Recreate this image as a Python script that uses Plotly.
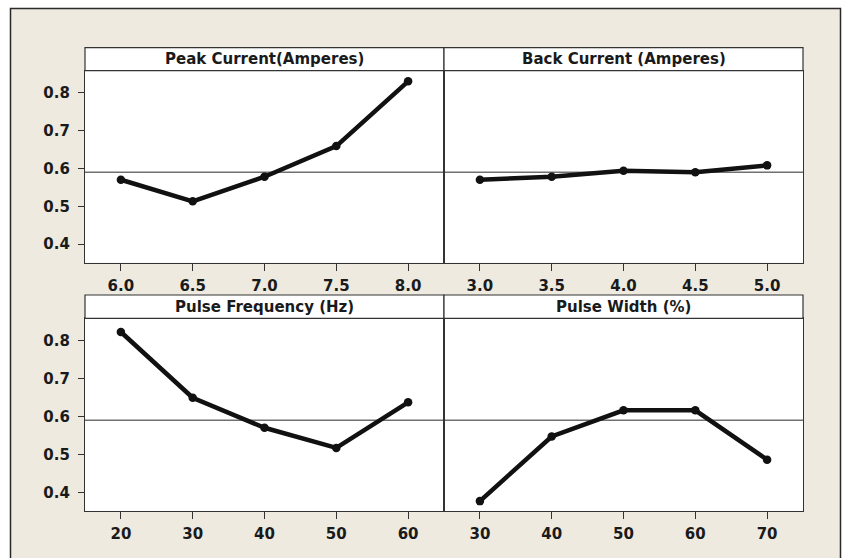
import plotly.graph_objects as go

W, H = 842, 558

# ---- data ----
panel_titles = ["Peak Current(Amperes)", "Back Current (Amperes)",
                "Pulse Frequency (Hz)", "Pulse Width (%)"]
peak_x = [6.0, 6.5, 7.0, 7.5, 8.0]
peak_y = [0.570, 0.513, 0.578, 0.659, 0.830]
back_x = [3.0, 3.5, 4.0, 4.5, 5.0]
back_y = [0.570, 0.578, 0.594, 0.590, 0.608]
freq_x = [20, 30, 40, 50, 60]
freq_y = [0.822, 0.649, 0.570, 0.517, 0.637]
width_x = [30, 40, 50, 60, 70]
width_y = [0.377, 0.547, 0.616, 0.616, 0.486]
grand_mean = 0.590
y_ticks = [0.4, 0.5, 0.6, 0.7, 0.8]

series = [(peak_x, peak_y), (back_x, back_y), (freq_x, freq_y), (width_x, width_y)]
x_ranges = [[5.75, 8.25], [2.75, 5.25], [15, 65], [25, 75]]
x_formats = [".1f", ".1f", "d", "d"]
y_range = [0.351, 0.858]

# ---- geometry (pixels) ----
px_cols = [(85, 444), (444, 803)]
px_rows = [(47.7, 70.7, 262.7), (295, 318.3, 511)]  # strip top, strip bottom, plot bottom

def fx(p):
    return p / W

def fy(p):
    return 1 - p / H

BEIGE = "#EEEAE0"
FONT = dict(family="DejaVu Sans", size=15, color="#1a1a1a", weight="bold")

fig = go.Figure()
shapes = []
annotations = []

# white outside area + frame
shapes.append(dict(type="rect", xref="paper", yref="paper", x0=0, x1=1, y0=fy(8), y1=1,
                   fillcolor="white", line_width=0, layer="below"))
shapes.append(dict(type="rect", xref="paper", yref="paper", x0=0, x1=fx(10), y0=0, y1=1,
                   fillcolor="white", line_width=0, layer="below"))
shapes.append(dict(type="rect", xref="paper", yref="paper", x0=fx(841), x1=1, y0=0, y1=1,
                   fillcolor="white", line_width=0, layer="below"))
shapes.append(dict(type="path", xref="paper", yref="paper",
                   path=f"M {fx(10.5)},{fy(560)} L {fx(10.5)},{fy(8.5)} L {fx(840.5)},{fy(8.5)} L {fx(840.5)},{fy(560)}",
                   line=dict(color="#2a2a2a", width=1.5)))

for i, (xs, ys) in enumerate(series):
    r, c = divmod(i, 2)
    n = i + 1
    xa = "xaxis" if n == 1 else f"xaxis{n}"
    ya = "yaxis" if n == 1 else f"yaxis{n}"
    xr = "x" if n == 1 else f"x{n}"
    yr = "y" if n == 1 else f"y{n}"
    cx0, cx1 = px_cols[c]
    st, sb, pb = px_rows[r]

    fig.add_trace(go.Scatter(x=xs, y=ys, xaxis=xr, yaxis=yr, mode="lines+markers",
                             line=dict(color="#111111", width=4.5),
                             marker=dict(color="#111111", size=8.5),
                             showlegend=False, hoverinfo="x+y"))

    fig.layout[xa] = dict(domain=[fx(cx0), fx(cx1)], anchor=yr, range=x_ranges[i],
                          tickvals=xs, tickformat=x_formats[i], ticks="outside",
                          ticklen=7, tickwidth=1, tickcolor="#333",
                          showline=True, mirror=True, linecolor="#333", linewidth=1.2,
                          showgrid=False, zeroline=False, tickfont=FONT,
                          ticklabelstandoff=2, fixedrange=True)
    fig.layout[ya] = dict(domain=[fy(pb), fy(sb)], anchor=xr, range=y_range,
                          tickvals=y_ticks, tickformat=".1f",
                          ticks="outside" if c == 0 else "", ticklen=6, tickwidth=1,
                          tickcolor="#333", showticklabels=(c == 0),
                          showline=True, mirror=True, linecolor="#333", linewidth=1.2,
                          showgrid=False, zeroline=False, tickfont=FONT,
                          ticklabelstandoff=5, fixedrange=True)

    # strip
    shapes.append(dict(type="rect", xref="paper", yref="paper",
                       x0=fx(cx0), x1=fx(cx1), y0=fy(sb), y1=fy(st),
                       fillcolor="white", line=dict(color="#333", width=1.2)))
    annotations.append(dict(xref="paper", yref="paper", x=(fx(cx0) + fx(cx1)) / 2,
                            y=(fy(sb) + fy(st)) / 2, text=panel_titles[i], showarrow=False,
                            xanchor="center", yanchor="middle",
                            font=dict(family="DejaVu Sans", size=15, color="#1a1a1a", weight="bold")))
    # grand mean reference line
    shapes.append(dict(type="line", xref=f"{xr} domain", yref=yr, x0=0, x1=1,
                       y0=grand_mean, y1=grand_mean, line=dict(color="#707070", width=1.5),
                       layer="below"))

fig.update_layout(width=W, height=H, margin=dict(l=0, r=0, t=0, b=0),
                  paper_bgcolor=BEIGE, plot_bgcolor="white",
                  shapes=shapes, annotations=annotations, showlegend=False)

fig.write_html("out.html", config={"displayModeBar": False},
               post_script="document.body.style.margin='0';document.body.style.overflow='hidden';")
